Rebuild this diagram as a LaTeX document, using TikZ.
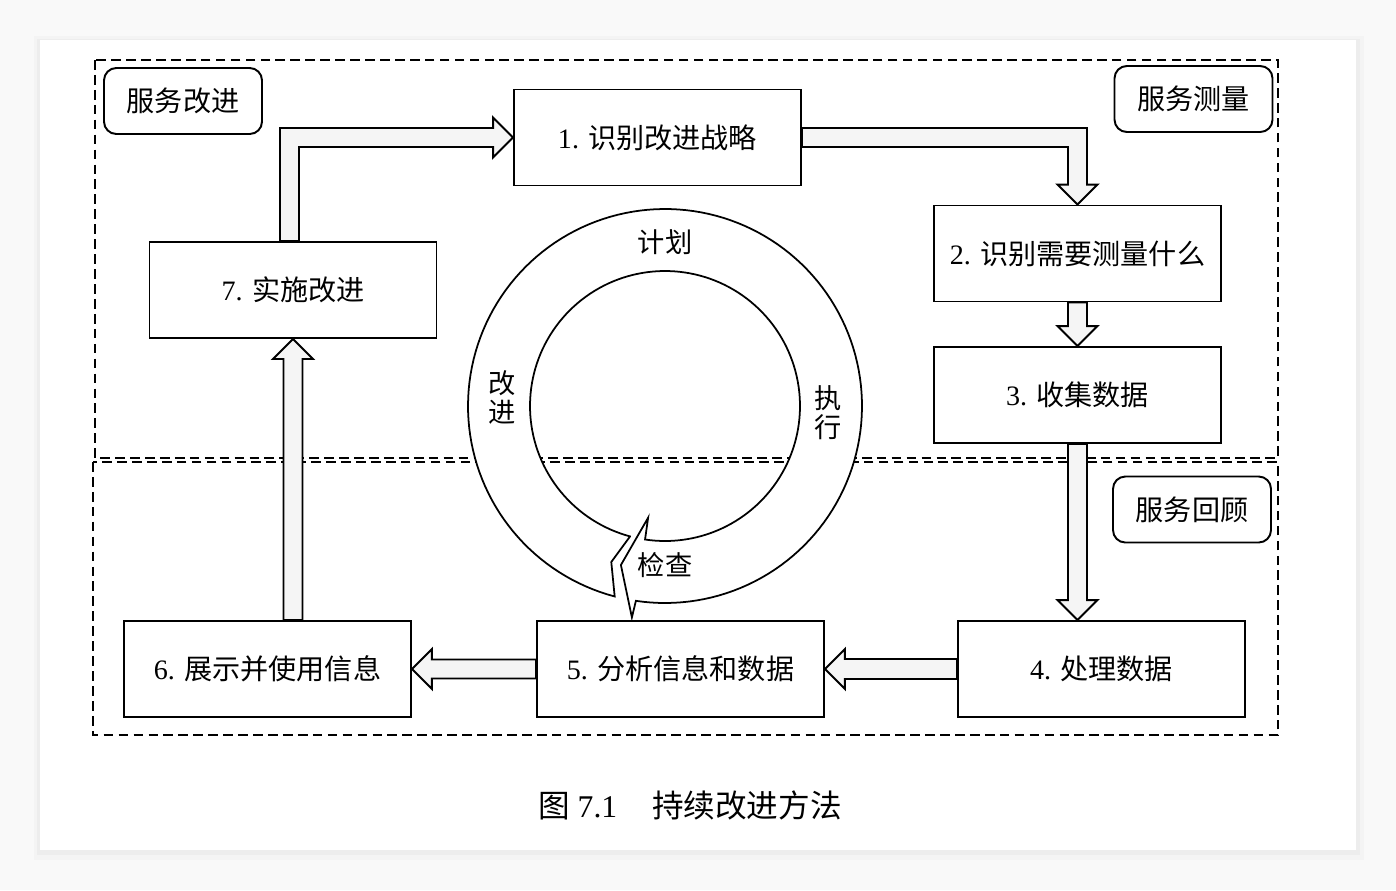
\documentclass[tikz,border=0pt]{standalone}
\usepackage{fontspec}
\setmainfont{Liberation Serif}
\newfontfamily\cjk{Noto Sans CJK SC}
\usetikzlibrary{calc}

\tikzset{
  procbox/.style={draw, line width=1.1pt, fill=white, minimum width=5.74cm, minimum height=1.92cm,
    inner sep=0pt, font=\fontsize{16}{19}\selectfont},
  tagbox/.style={draw, line width=1.1pt, rounded corners=7pt, fill=white, minimum width=3.16cm,
    minimum height=1.32cm, font=\cjk\fontsize{16}{19}\selectfont},
  hollow/.style={draw, line width=1.1pt, fill=gray!8, line join=miter},
  zone/.style={line width=0.7pt, dash pattern=on 5.5pt off 3pt},
  ringlabel/.style={font=\cjk\fontsize{15.5}{16.5}\selectfont, align=center, inner sep=0pt},
}

\begin{document}
\begin{tikzpicture}[x=0.02cm, y=-0.02cm]
  \useasboundingbox (0,0) rectangle (1396,890);
  % Page and shadow
  \fill[gray!5] (0,0) rectangle (1396,890);
  \fill[gray!9] (34,36) rectangle (1364,860);
  \fill[gray!14] (37,39) rectangle (1360,855);
  \fill[white] (40,40) rectangle (1356,850);
  % Zones
  \draw[zone] (95,60) rectangle (1278,458);
  \draw[zone] (93,462) rectangle (1278,735);
  % PDCA ring, centre (665,406), radii 135/197
  \begin{scope}[shift={(665,406)}]
    \draw[line width=1pt, fill=white] (105:135) -- (109:165) -- (104.8:197)
      -- plot[domain=104.8:458.5, samples=160] (\x:197)
      -- (458.9:214) -- (465.5:165) -- (458.6:113) -- (458.5:135)
      -- plot[domain=458.5:105, samples=160] (\x:135) -- cycle;
  \end{scope}
  \node[ringlabel] (pplan) at (665,242) {计划};
  \node[ringlabel] (pdo) at (828,413) {执\\行};
  \node[ringlabel] (pcheck) at (665,565) {检查};
  \node[ringlabel] (pact) at (502,397) {改\\进};
  % Steps
  \node[procbox] (s1) at (657.5,137.5) {1. {\cjk 识别改进战略}};
  \node[procbox] (s2) at (1077.5,253.5) {2. {\cjk 识别需要测量什么}};
  \node[procbox] (s3) at (1077.5,395) {3. {\cjk 收集数据}};
  \node[procbox] (s4) at (1101.5,669) {4. {\cjk 处理数据}};
  \node[procbox] (s5) at (680.5,669) {5. {\cjk 分析信息和数据}};
  \node[procbox] (s6) at (267.5,669) {6. {\cjk 展示并使用信息}};
  \node[procbox] (s7) at (293,290) {7. {\cjk 实施改进}};
  % Zone tags
  \node[tagbox] (improve) at (183,101) {服务改进};
  \node[tagbox] (measure) at (1193.5,99) {服务测量};
  \node[tagbox] (review) at (1192,509.5) {服务回顾};
  % Block arrows
  \coordinate (t4) at (s3.south |- s4.north);
  \coordinate (b6) at (s7.south |- s6.north);
  \draw[hollow] ($(s7.north)+(-13,0)$) |- ($(s1.west)+(-20,-9.5)$) -- ++(0,-10.5) -- (s1.west)
    -- ++(-20,20) -- ++(0,-10.5) -| ($(s7.north)+(6,0)$) -- cycle;
  \draw[hollow] ($(s1.east)+(0,-9.5)$) -| ($(s2.north)+(9.5,-20)$) -- ++(10.5,0) -- (s2.north)
    -- ++(-20,-20) -- ++(10.5,0) |- ($(s1.east)+(0,9.5)$) -- cycle;
  \draw[hollow] ($(s2.south)+(-9.5,0)$) -- ($(s3.north)+(-9.5,-20)$) -- ++(-10.5,0) -- (s3.north)
    -- ++(20,-20) -- ++(-10.5,0) -- ($(s2.south)+(9.5,0)$) -- cycle;
  \draw[hollow] ($(s3.south)+(-9.5,0)$) -- ($(t4)+(-9.5,-20)$) -- ++(-10.5,0) -- (t4)
    -- ++(20,-20) -- ++(-10.5,0) -- ($(s3.south)+(9.5,0)$) -- cycle;
  \draw[hollow] ($(s4.west)+(0,-10)$) -- ($(s5.east)+(20,-10)$) -- ++(0,-10) -- (s5.east)
    -- ++(20,20) -- ++(0,-10) -- ($(s4.west)+(0,10)$) -- cycle;
  \draw[hollow] ($(s5.west)+(0,-9.5)$) -- ($(s6.east)+(20,-9.5)$) -- ++(0,-10.5) -- (s6.east)
    -- ++(20,20) -- ++(0,-10.5) -- ($(s5.west)+(0,9.5)$) -- cycle;
  \draw[hollow] ($(b6)+(-9.5,0)$) -- ($(s7.south)+(-9.5,20)$) -- ++(-10.5,0) -- (s7.south)
    -- ++(20,20) -- ++(-10.5,0) -- ($(b6)+(9.5,0)$) -- cycle;
  % Caption
  \node[font=\fontsize{18}{21}\selectfont] (caption) at (690,805) {{\cjk 图} 7.1\hspace{1.1em}{\cjk 持续改进方法}};
\end{tikzpicture}
\end{document}
